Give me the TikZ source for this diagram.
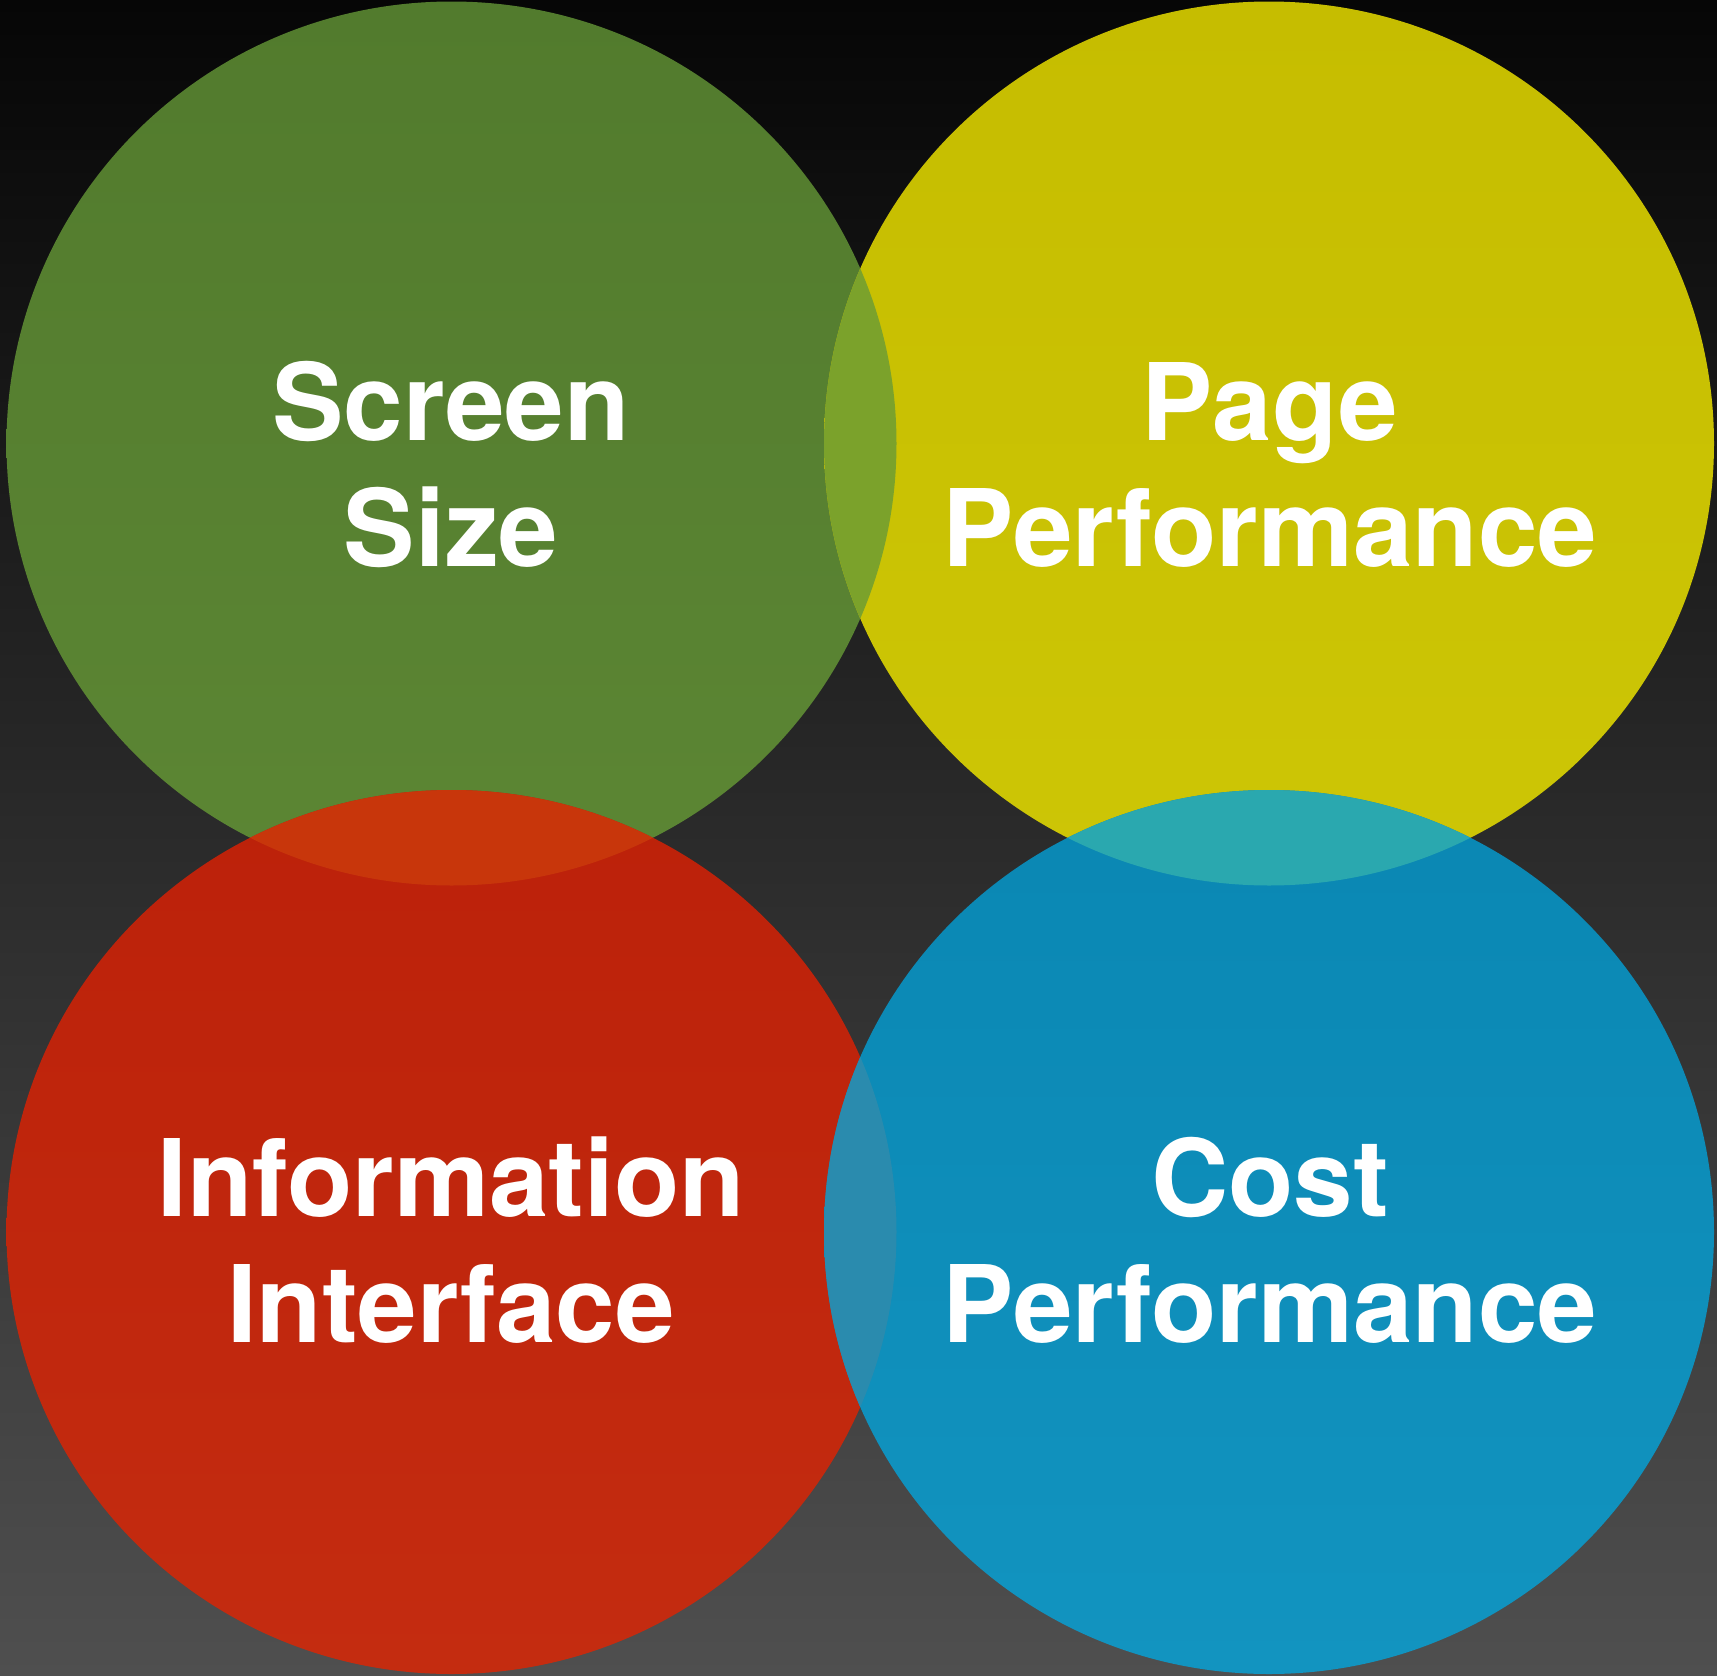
\documentclass[tikz,border=0pt]{standalone}
\usepackage{fontspec}
\setmainfont{TeX Gyre Heros}
\definecolor{bgtop}{HTML}{060606}
\definecolor{bgbot}{HTML}{4F4F4F}
\definecolor{gtop}{HTML}{527B2D}
\definecolor{gbot}{HTML}{5C8634}
\definecolor{ytop}{HTML}{C6BD00}
\definecolor{ybot}{HTML}{CDC606}
\definecolor{rtop}{HTML}{BC210A}
\definecolor{rbot}{HTML}{C42C10}
\definecolor{btop}{HTML}{0A87B3}
\definecolor{bbot}{HTML}{1294C0}
\definecolor{gylens}{HTML}{7BA22B}
\definecolor{grlens}{HTML}{C8360B}
\definecolor{yblens}{HTML}{2AA8AF}
\definecolor{rblens}{HTML}{2A8BAE}
\begin{document}
\begin{tikzpicture}[x=1pt,y=-1pt,
  lbl/.style={text=white, font=\bfseries\fontsize{107}{125}\selectfont, inner sep=0pt, anchor=base},
  disc/.style={x radius=445pt, y radius=442pt}]
\useasboundingbox (0,0) rectangle (1717,1676);
\shade[top color=bgtop, bottom color=bgbot] (0,0) rectangle (1717,1676);
% centres
\coordinate (G) at (451.5,443.5);
\coordinate (Y) at (1269,443.5);
\coordinate (R) at (451.5,1232);
\coordinate (B) at (1269,1232);
% circles
\shade[top color=gtop, bottom color=gbot] (G) ellipse[disc];
\shade[top color=ytop, bottom color=ybot] (Y) ellipse[disc];
\shade[top color=rtop, bottom color=rbot] (R) ellipse[disc];
\shade[top color=btop, bottom color=bbot] (B) ellipse[disc];
% overlaps
\begin{scope}
  \clip (G) ellipse[disc];
  \fill[gylens] (Y) ellipse[disc];
  \fill[grlens] (R) ellipse[disc];
\end{scope}
\begin{scope}
  \clip (B) ellipse[disc];
  \fill[yblens] (Y) ellipse[disc];
  \fill[rblens] (R) ellipse[disc];
\end{scope}
% labels
\node[lbl] (screen) at (451,440) {Screen};
\node[lbl] (size) at (451,566) {Size};
\node[lbl] (page) at (1270,440) {Page};
\node[lbl] (perf1) at (1270,566) {Performance};
\node[lbl] (info) at (451,1216) {Information};
\node[lbl] (iface) at (451,1342) {Interface};
\node[lbl] (cost) at (1270,1216) {Cost};
\node[lbl] (perf2) at (1270,1342) {Performance};
\end{tikzpicture}
\end{document}
